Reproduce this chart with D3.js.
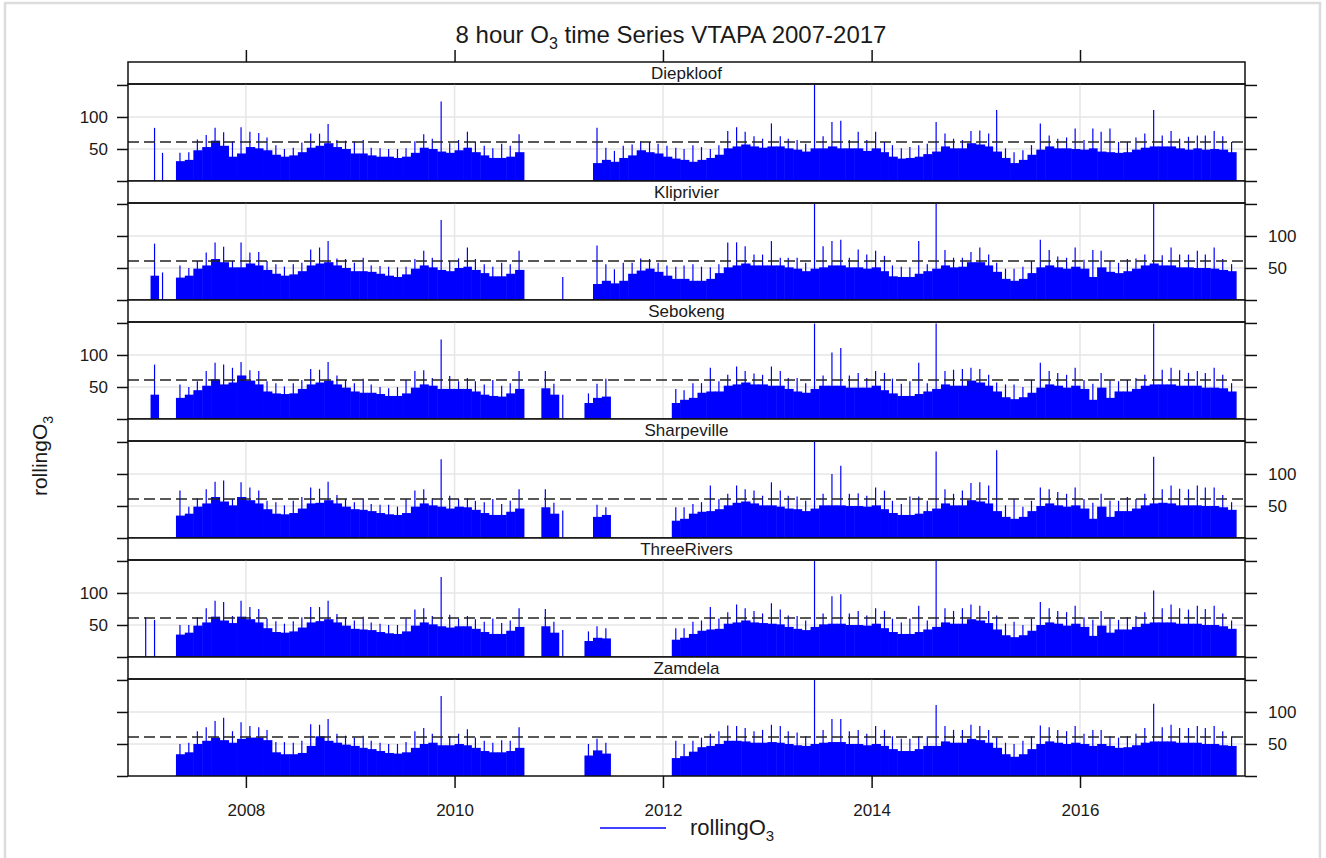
<!DOCTYPE html>
<html>
<head>
<meta charset="utf-8">
<script src="https://cdn.jsdelivr.net/npm/d3@7"></script>
<style>
  body { margin: 0; background: #fff; }
  svg { display: block; }
  text { font-family: "Liberation Sans", Arial, sans-serif; fill: #1a1a1a; }
</style>
</head>
<body>
<svg id="chart" width="1326" height="858"></svg>
<script>
const _ = null

// panels, top to bottom
const stationNames = ['Diepkloof', 'Kliprivier', 'Sebokeng', 'Sharpeville', 'ThreeRivers', 'Zamdela']
const yearTicks = [2008, 2010, 2012, 2014, 2016]
const yTicks = [0, 50, 100, 150]
const yLabels = [50, 100]
const limitO3 = 61 // dashed reference line

// monthly values, Jan 2007 .. Jun 2017, one row per year
// top = upper edge of the dense band, peak = highest 8 hour value in the month
const diepkloofTop = [
  [_, _, _, _, 31, 33, 48, 53, 63, 55, 38, 43],
  [53, 51, 48, 41, 38, 40, 45, 52, 55, 59, 53, 50],
  [43, 43, 40, 38, 38, 36, 38, 44, 52, 50, 46, 44],
  [48, 52, 45, 40, 36, 36, 38, 45, _, _, _, _],
  [_, _, _, _, 28, 33, 30, 36, 40, 48, 45, 43],
  [38, 35, 33, 30, 33, 36, 41, 51, 54, 57, 54, 52],
  [54, 54, 51, 49, 46, 51, 51, 54, 51, 51, 51, 47],
  [51, 45, 38, 35, 36, 38, 42, 46, 54, 51, 51, 59],
  [57, 54, 46, 36, 28, 33, 41, 49, 54, 51, 51, 50],
  [49, 51, 46, 45, 44, 45, 49, 52, 54, 54, 54, 51],
  [49, 51, 49, 50, 49, 45]
]
const diepkloofPeak = [
  [_, 83, 44, _, 44, 45, 65, 72, 83, 76, 62, 84],
  [77, 75, 68, 56, 50, 52, 60, 74, 74, 89, 64, 63],
  [62, 64, 52, 51, 50, 50, 51, 62, 73, 66, 124, 59],
  [64, 77, 62, 55, 51, 58, 55, 73, _, _, _, _],
  [_, _, _, _, 83, 52, 47, 55, 57, 62, 61, 58],
  [55, 52, 50, 56, 53, 50, 56, 78, 84, 77, 70, 66],
  [90, 70, 66, 64, 58, 150, 70, 92, 94, 64, 77, 64],
  [77, 61, 56, 51, 53, 56, 58, 92, 74, 66, 64, 78],
  [79, 74, 111, 51, 45, 48, 56, 90, 71, 66, 68, 82],
  [64, 82, 77, 82, 61, 61, 68, 74, 111, 71, 78, 66],
  [69, 71, 71, 78, 70, 61]
]

const kliprivierTop = [
  [_, 38, _, _, 35, 38, 49, 54, 64, 59, 51, 51],
  [57, 54, 47, 41, 38, 40, 45, 54, 57, 59, 54, 50],
  [45, 45, 44, 41, 38, 36, 40, 49, 54, 51, 47, 45],
  [50, 52, 47, 42, 37, 37, 41, 47, _, _, _, _],
  [_, _, _, _, 25, 30, 26, 30, 41, 46, 49, 44],
  [38, 33, 33, 30, 30, 33, 42, 51, 54, 57, 54, 54],
  [54, 54, 51, 49, 45, 49, 51, 54, 54, 51, 51, 49],
  [51, 45, 37, 36, 36, 41, 45, 49, 54, 51, 52, 59],
  [59, 54, 44, 33, 30, 33, 42, 51, 54, 51, 49, 52],
  [49, 36, 51, 44, 42, 45, 49, 54, 57, 54, 54, 51],
  [51, 50, 50, 49, 47, 45]
]
const kliprivierPeak = [
  [_, 88, 43, _, 54, 50, 61, 74, 90, 83, 61, 90],
  [74, 75, 61, 56, 52, 56, 58, 79, 82, 92, 65, 64],
  [58, 66, 54, 53, 52, 51, 52, 64, 77, 66, 125, 61],
  [65, 82, 64, 56, 52, 58, 56, 77, _, _, _, _],
  [36, _, _, _, 85, 56, 48, 58, 58, 65, 64, 58],
  [54, 52, 54, 56, 52, 51, 56, 90, 90, 84, 71, 71],
  [92, 66, 66, 66, 58, 150, 84, 92, 94, 66, 79, 71],
  [77, 69, 54, 52, 51, 92, 56, 150, 78, 66, 66, 75],
  [82, 71, 58, 49, 49, 52, 61, 94, 78, 68, 66, 82],
  [63, 78, 77, 61, 58, 64, 65, 71, 150, 70, 82, 71],
  [71, 77, 71, 82, 64, 56]
]

const sebokengTop = [
  [_, 38, _, _, 33, 38, 45, 52, 62, 54, 57, 68],
  [60, 54, 43, 40, 39, 40, 47, 54, 57, 60, 54, 49],
  [43, 41, 41, 39, 36, 36, 40, 49, 54, 52, 47, 47],
  [47, 47, 43, 38, 36, 35, 40, 47, _, _, 48, 38],
  [_, _, _, 25, 33, 35, _, _, _, _, _, _],
  [_, 25, 30, 33, 41, 43, 43, 52, 54, 57, 54, 54],
  [52, 52, 47, 43, 41, 47, 52, 52, 52, 49, 49, 49],
  [52, 45, 40, 36, 36, 39, 43, 47, 54, 52, 52, 60],
  [57, 52, 43, 34, 31, 34, 41, 49, 54, 52, 49, 52],
  [47, 30, 49, 33, 43, 43, 47, 52, 54, 54, 54, 52],
  [52, 52, 49, 49, 48, 43]
]
const sebokengPeak = [
  [_, 85, _, _, 54, 50, 59, 75, 88, 85, 80, 89],
  [76, 75, 59, 56, 51, 56, 61, 78, 77, 89, 68, 61],
  [56, 63, 54, 50, 48, 50, 61, 75, 76, 64, 124, 67],
  [59, 64, 59, 54, 61, 52, 56, 75, _, _, 75, 55],
  [38, _, _, 40, 55, 63, _, _, _, _, _, _],
  [_, 47, 45, 56, 56, 80, 59, 69, 82, 75, 71, 69],
  [82, 75, 64, 64, 56, 149, 68, 104, 111, 68, 72, 64],
  [75, 72, 63, 55, 59, 88, 56, 149, 75, 77, 78, 80],
  [78, 69, 57, 54, 54, 50, 61, 88, 75, 72, 69, 80],
  [61, 55, 72, 60, 59, 61, 64, 69, 149, 77, 80, 76],
  [72, 75, 72, 80, 69, 56]
]

const sharpevilleTop = [
  [_, _, _, _, 35, 38, 49, 54, 64, 57, 51, 64],
  [59, 54, 45, 38, 37, 39, 46, 54, 55, 59, 54, 49],
  [45, 44, 42, 39, 37, 36, 39, 49, 54, 51, 49, 46],
  [49, 48, 44, 39, 36, 36, 41, 46, _, _, 48, 38],
  [_, _, _, _, 33, 36, _, _, _, _, _, _],
  [_, 27, 30, 38, 41, 42, 45, 51, 55, 57, 54, 51],
  [51, 49, 46, 45, 42, 46, 51, 51, 51, 50, 50, 49],
  [51, 45, 39, 36, 36, 38, 42, 46, 54, 51, 51, 59],
  [57, 54, 42, 33, 30, 33, 42, 50, 54, 51, 49, 51],
  [46, 30, 49, 33, 42, 42, 46, 51, 54, 55, 54, 51],
  [51, 51, 50, 50, 48, 44]
]
const sharpevillePeak = [
  [_, _, _, _, 74, 49, 62, 76, 88, 90, 61, 87],
  [79, 74, 58, 56, 51, 58, 64, 79, 77, 88, 67, 61],
  [56, 62, 53, 52, 52, 49, 61, 74, 76, 62, 123, 66],
  [61, 62, 58, 56, 61, 53, 58, 76, _, _, 76, 55],
  [43, _, _, _, 52, 48, _, _, _, _, _, _],
  [_, 48, 48, 53, 56, 82, 61, 69, 82, 76, 74, 66],
  [87, 74, 66, 65, 58, 150, 69, 100, 113, 69, 70, 66],
  [79, 74, 58, 53, 65, 65, 58, 135, 76, 69, 74, 86],
  [87, 82, 137, 51, 61, 49, 58, 79, 76, 72, 69, 79],
  [61, 55, 69, 58, 58, 64, 61, 69, 127, 76, 82, 77],
  [76, 82, 79, 79, 67, 56]
]

const threeRiversTop = [
  [_, _, _, _, 35, 38, 49, 54, 63, 57, 53, 63],
  [59, 54, 45, 39, 38, 40, 46, 54, 56, 59, 54, 49],
  [44, 43, 42, 39, 37, 36, 40, 49, 54, 51, 48, 46],
  [48, 48, 44, 39, 36, 36, 41, 47, _, _, 48, 38],
  [_, _, _, 25, 30, 29, _, _, _, _, _, _],
  [_, 27, 30, 36, 41, 43, 44, 52, 54, 57, 54, 53],
  [52, 51, 47, 44, 42, 47, 51, 52, 52, 50, 50, 49],
  [52, 45, 39, 36, 36, 39, 43, 47, 54, 52, 52, 59],
  [57, 53, 43, 34, 31, 34, 41, 50, 54, 52, 49, 52],
  [47, 33, 49, 38, 43, 43, 47, 52, 54, 54, 54, 52],
  [52, 52, 50, 50, 48, 44]
]
const threeRiversPeak = [
  [62, 58, _, _, 50, 50, 62, 76, 88, 86, 64, 88],
  [78, 75, 60, 56, 52, 56, 62, 78, 78, 88, 67, 62],
  [57, 63, 54, 52, 50, 50, 60, 74, 76, 64, 125, 66],
  [60, 64, 59, 55, 60, 53, 57, 76, _, _, 75, 55],
  [42, _, _, 40, 48, 45, _, _, _, _, _, _],
  [_, 45, 45, 55, 57, 78, 60, 70, 82, 76, 72, 68],
  [84, 74, 65, 64, 57, 150, 68, 95, 98, 68, 72, 65],
  [76, 72, 60, 54, 60, 80, 57, 150, 76, 72, 76, 82],
  [80, 72, 65, 52, 55, 50, 60, 86, 76, 72, 70, 80],
  [62, 58, 72, 60, 58, 62, 64, 70, 104, 76, 82, 76],
  [74, 80, 75, 80, 68, 57]
]

const zamdelaTop = [
  [_, _, _, _, 34, 37, 50, 55, 60, 56, 52, 58],
  [60, 60, 56, 37, 34, 34, 36, 47, 62, 55, 52, 49],
  [47, 44, 42, 39, 36, 35, 37, 44, 50, 52, 48, 48],
  [50, 48, 44, 39, 37, 37, 39, 44, _, _, _, _],
  [_, _, _, 32, 40, 35, _, _, _, _, _, _],
  [_, 28, 31, 38, 45, 47, 50, 55, 55, 54, 52, 52],
  [53, 52, 50, 48, 47, 50, 52, 53, 53, 50, 50, 48],
  [50, 47, 42, 39, 39, 42, 47, 47, 54, 52, 52, 58],
  [56, 52, 44, 34, 30, 34, 42, 50, 54, 52, 50, 52],
  [50, 47, 50, 47, 44, 45, 48, 52, 54, 54, 54, 52],
  [52, 52, 50, 50, 48, 47]
]
const zamdelaPeak = [
  [_, _, _, _, 50, 52, 70, 76, 86, 91, 70, 84],
  [78, 76, 72, 53, 53, 52, 55, 81, 80, 89, 66, 63],
  [60, 63, 55, 52, 50, 50, 53, 70, 75, 66, 125, 62],
  [66, 73, 60, 55, 52, 56, 55, 76, _, _, _, _],
  [_, _, _, 50, 58, 52, _, _, _, _, _, _],
  [_, 55, 50, 55, 60, 66, 70, 79, 78, 75, 70, 72],
  [80, 78, 70, 68, 62, 150, 72, 89, 89, 70, 72, 66],
  [78, 72, 62, 58, 58, 62, 62, 111, 78, 72, 72, 80],
  [78, 72, 60, 52, 50, 55, 62, 79, 76, 72, 70, 78],
  [66, 72, 72, 62, 60, 62, 66, 75, 113, 76, 80, 75],
  [75, 78, 75, 78, 70, 62]
]

const topSeries = [diepkloofTop, kliprivierTop, sebokengTop, sharpevilleTop, threeRiversTop, zamdelaTop]
const peakSeries = [diepkloofPeak, kliprivierPeak, sebokengPeak, sharpevillePeak, threeRiversPeak, zamdelaPeak]

// layout
const plotLeft = 128
const plotRight = 1245
const firstStrip = 62
const pitch = 119
const stripH = 22
const plotH = pitch - stripH
const blue = '#0000ff'

const months = d3.timeMonth.range(new Date(2007, 0, 1), new Date(2017, 6, 1))

const x = d3.scaleTime()
  .domain([new Date(2006, 10, 14), new Date(2017, 7, 1)])
  .range([plotLeft, plotRight])

const y = d3.scaleLinear().domain([0, 151.5]).range([plotH, 0])

const yearDates = yearTicks.map(yr => new Date(yr, 0, 1))

const svg = d3.select('#chart')

// light frame round the figure
svg.append('rect')
  .attr('x', 5).attr('y', 3)
  .attr('width', 1315).attr('height', 862)
  .attr('fill', 'none')
  .attr('stroke', '#dcdcdc')
  .attr('stroke-width', 2.5)

// title
const title = svg.append('text')
  .attr('x', 671).attr('y', 43)
  .attr('text-anchor', 'middle')
  .style('font-size', '24px')
title.append('tspan').text('8 hour O')
title.append('tspan').text('3').attr('dy', 6).style('font-size', '16px')
title.append('tspan').text(' time Series VTAPA 2007-2017').attr('dy', -6)

stationNames.forEach((name, i) => {
  const g = svg.append('g').attr('transform', `translate(0,${firstStrip + i * pitch})`)

  // strip
  g.append('rect')
    .attr('x', plotLeft).attr('width', plotRight - plotLeft)
    .attr('height', stripH)
    .attr('fill', '#fff')
    .attr('stroke', '#111')
    .attr('stroke-width', 1.5)
  g.append('text')
    .attr('x', (plotLeft + plotRight) / 2).attr('y', 17)
    .attr('text-anchor', 'middle')
    .style('font-size', '17px')
    .text(name)

  const p = g.append('g').attr('transform', `translate(0,${stripH})`)

  // grid
  p.selectAll('.vgrid')
    .data(yearDates)
    .join('line')
    .attr('class', 'vgrid')
    .attr('x1', d => x(d)).attr('x2', d => x(d))
    .attr('y1', 0).attr('y2', plotH)
    .attr('stroke', '#e6e6e6').attr('stroke-width', 1.5)
  p.selectAll('.hgrid')
    .data(yLabels)
    .join('line')
    .attr('class', 'hgrid')
    .attr('x1', plotLeft).attr('x2', plotRight)
    .attr('y1', d => y(d)).attr('y2', d => y(d))
    .attr('stroke', '#e6e6e6').attr('stroke-width', 1.5)

  const tops = topSeries[i].flat()
  const peaks = peakSeries[i].flat()
  const rows = months.map((m, j) => ({ date: m, top: tops[j], peak: peaks[j] }))

  // dense band
  p.selectAll('.band')
    .data(rows.filter(d => d.top != null))
    .join('rect')
    .attr('class', 'band')
    .attr('x', d => x(d.date))
    .attr('width', d => x(d3.timeMonth.offset(d.date, 1)) - x(d.date) + 0.5)
    .attr('y', d => y(d.top))
    .attr('height', d => y(0) - y(d.top))
    .attr('fill', blue)

  // monthly peaks
  p.selectAll('.peak')
    .data(rows.filter(d => d.peak != null))
    .join('line')
    .attr('class', 'peak')
    .attr('x1', d => x(d3.timeDay.offset(d.date, 14)))
    .attr('x2', d => x(d3.timeDay.offset(d.date, 14)))
    .attr('y1', y(0))
    .attr('y2', d => y(d.peak))
    .attr('stroke', blue)
    .attr('stroke-width', 1.2)

  // limit line
  p.append('line')
    .attr('x1', plotLeft).attr('x2', plotRight)
    .attr('y1', y(limitO3)).attr('y2', y(limitO3))
    .attr('stroke', '#222')
    .attr('stroke-width', 1.5)
    .attr('stroke-dasharray', '11,5')

  p.append('rect')
    .attr('x', plotLeft).attr('width', plotRight - plotLeft)
    .attr('height', plotH)
    .attr('fill', 'none')
    .attr('stroke', '#111')
    .attr('stroke-width', 1.5)

  // y axes, labels alternate left / right
  const labelLeft = i % 2 === 0
  const fmt = show => d => (show && yLabels.includes(d)) ? d : ''
  p.append('g')
    .attr('transform', `translate(${plotLeft},0)`)
    .call(d3.axisLeft(y).tickValues(yTicks).tickSize(11).tickPadding(9).tickFormat(fmt(labelLeft)))
  p.append('g')
    .attr('transform', `translate(${plotRight},0)`)
    .call(d3.axisRight(y).tickValues(yTicks).tickSize(12).tickPadding(11).tickFormat(fmt(!labelLeft)))
})

// x axes
const bottom = firstStrip + stationNames.length * pitch
svg.append('g')
  .attr('transform', `translate(0,${firstStrip})`)
  .call(d3.axisTop(x).tickValues(yearDates).tickSize(12).tickFormat(''))
svg.append('g')
  .attr('transform', `translate(0,${bottom})`)
  .call(d3.axisBottom(x).tickValues(yearDates).tickSize(12).tickPadding(16).tickFormat(d3.timeFormat('%Y')))

svg.selectAll('.domain').remove()
svg.selectAll('.tick line').attr('stroke', '#111').attr('stroke-width', 1.5)
svg.selectAll('.tick text').style('font-size', '17px').attr('fill', '#1a1a1a')

// y label
const ylab = svg.append('text')
  .attr('transform', 'translate(47,456) rotate(-90)')
  .attr('text-anchor', 'middle')
  .style('font-size', '21px')
ylab.append('tspan').text('rollingO')
ylab.append('tspan').text('3').attr('dy', 6).style('font-size', '14px')

// legend
svg.append('line')
  .attr('x1', 600).attr('x2', 666)
  .attr('y1', 828).attr('y2', 828)
  .attr('stroke', blue)
  .attr('stroke-width', 1.5)
const leg = svg.append('text')
  .attr('x', 690).attr('y', 835)
  .style('font-size', '22px')
leg.append('tspan').text('rollingO')
leg.append('tspan').text('3').attr('dy', 6).style('font-size', '15px')
</script>
</body>
</html>
